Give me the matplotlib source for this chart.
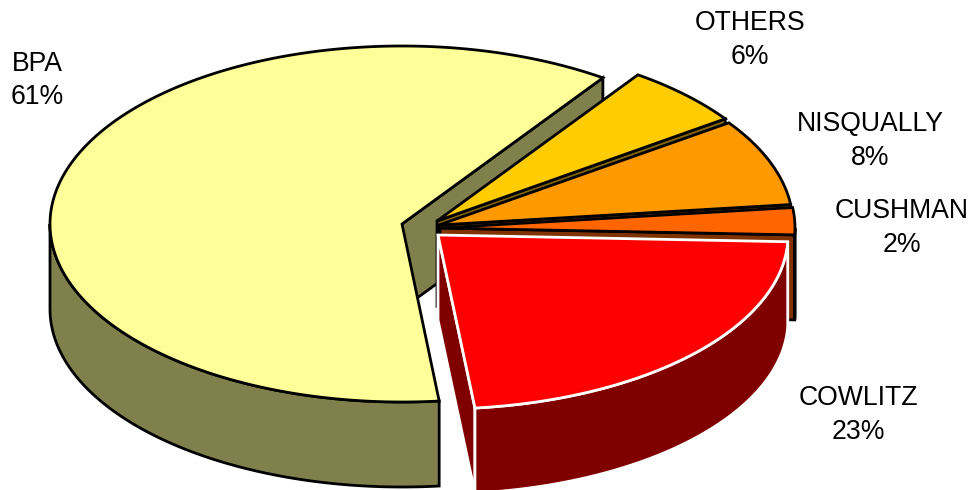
import numpy as np
import matplotlib
matplotlib.use("Agg")
import matplotlib.pyplot as plt
from matplotlib.patches import Polygon

# data
names = ["BPA", "OTHERS", "NISQUALLY", "CUSHMAN", "COWLITZ"]
shares = [61.35, 5.6, 7.9, 2.45, 22.7]

# style / layout
top_colors = ["#FFFF99", "#FFCC00", "#FF9900", "#FF6600", "#FF0000"]
side_colors = ["#80804D", "#806600", "#804D00", "#803300", "#800000"]
edge_colors = ["black", "black", "black", "black", "white"]
apex_x = [402, 437, 439, 440, 438]
apex_y = [224, 221, 225, 228, 235]
radius_x = [352, 352, 354, 355, 350]
radius_y = [178, 178, 178, 178, 174]
label_x = [37, 750, 870, 902, 858]
label_y = [80.5, 40, 141, 228, 415]
DEPTH = 85
START = -276.06
LW = 2.0

plt.rcParams['font.family'] = ['Liberation Sans', 'DejaVu Sans']
fig = plt.figure(figsize=(9.77, 4.9), dpi=100)
ax = fig.add_axes([0, 0, 1, 1])
ax.set_xlim(0, 977)
ax.set_ylim(490, 0)
ax.axis("off")


def rim(cx, cy, a, b, t0, t1, dy=0.0):
    t = np.radians(np.linspace(t0, t1, max(int(abs(t1 - t0)) * 2, 2)))
    return np.column_stack([cx + a * np.cos(t), cy + b * np.sin(t) + dy])


def front_range(t0, t1):
    for k in range(-2, 2):
        lo, hi = max(t0, 360 * k), min(t1, 180 + 360 * k)
        if hi > lo:
            return lo, hi
    return None


def add(pts, face, edge):
    ax.add_patch(Polygon(pts, closed=True, facecolor=face, edgecolor=edge,
                         linewidth=LW, joinstyle="miter", zorder=add.z))
    add.z += 1


add.z = 2
angle = START
for i, share in enumerate(shares):
    t0, t1 = angle, angle + share * 3.6
    angle = t1
    cx, cy, a, b = apex_x[i], apex_y[i], radius_x[i], radius_y[i]
    face_side, edge = side_colors[i], edge_colors[i]
    # cut face at the end of the slice
    end = rim(cx, cy, a, b, t1, t1 + 1e-6)[0]
    add([(cx, cy), end, end + (0, DEPTH), (cx, cy + DEPTH)], face_side, edge)
    # outer wall
    fr = front_range(t0, t1)
    if fr:
        upper = rim(cx, cy, a, b, fr[0], fr[1])
        lower = upper[::-1] + (0, DEPTH)
        add(np.vstack([upper, lower]), face_side, edge)
    # top
    add(np.vstack([[(cx, cy)], rim(cx, cy, a, b, t0, t1)]), top_colors[i], edge)

for i, name in enumerate(names):
    ax.text(label_x[i], label_y[i], f"{name}\n{round(shares[i])}%", ha="center",
            va="center", fontsize=19.2, color="black", linespacing=1.37, zorder=50)

fig.savefig("out.png", dpi=100, facecolor="white")
